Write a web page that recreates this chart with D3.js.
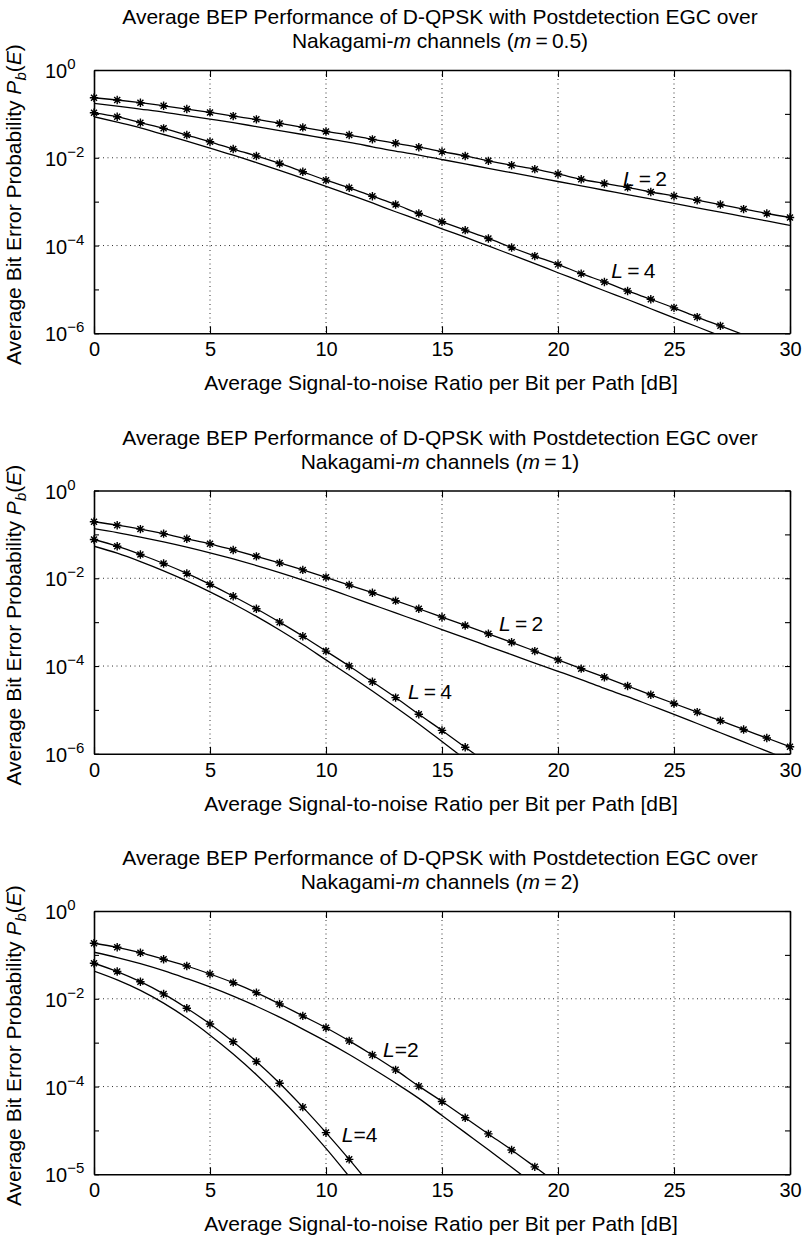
<!DOCTYPE html>
<html><head><meta charset="utf-8">
<script src="https://cdn.jsdelivr.net/npm/d3@7"></script>
<style>
body{margin:0;background:#fff}
text{font-family:"Liberation Sans",Arial,Helvetica,sans-serif;fill:#000}
</style>
</head><body>
<svg id="chart" width="803" height="1239"></svg>
<script>
// ---------- data ----------
const snrDb = [0,1,2,3,4,5,6,7,8,9,10,11,12,13,14,15,16,17,18,19,20,21,22,23,24,25,26,27,28,29,30];
const xTicks = [0,5,10,15,20,25,30];
const xGridTicks = [5,10,15,20,25];
const yDecades = [1,1e-1,1e-2,1e-3,1e-4,1e-5,1e-6];
const yLabelValues = [1,1e-2,1e-4,1e-6];
const yExpLabelsA = ["0","\u22122","\u22124","\u22126"];
const yExpLabelsB = ["0","\u22122","\u22124","\u22125"];
const mValues = ["0.5","1","2"];

// m = 0.5
const m05L2sim = [0.233,0.207,0.18,0.153,0.129,0.108,0.0891,0.075,0.0607,0.0492,0.0398,0.0329,0.0263,0.0214,0.0174,0.0138,0.011,0.00851,0.00676,0.0055,0.00427,0.00324,0.0026,0.00211,0.00166,0.00135,0.00108,8.6e-4,6.76e-4,5.37e-4,4.37e-4];
const m05L2thy = [0.174,0.151,0.129,0.11,0.0912,0.0759,0.0631,0.0513,0.0417,0.0339,0.0275,0.0224,0.0178,0.0141,0.0115,0.00912,0.00724,0.00575,0.00457,0.00363,0.00288,0.00229,0.00182,0.00145,0.00115,9.12e-4,7.24e-4,5.75e-4,4.57e-4,3.63e-4,2.88e-4];
const m05L4sim = [0.106,0.0861,0.0631,0.0468,0.0329,0.0231,0.0158,0.011,0.00741,0.00479,0.00309,0.00207,0.00133,8.61e-4,5.37e-4,3.47e-4,2.24e-4,1.45e-4,9.02e-5,5.75e-5,3.72e-5,2.29e-5,1.48e-5,9.23e-6,5.96e-6,3.8e-6,2.34e-6,1.48e-6,9.3e-7];
const m05L4thy = [0.0861,0.0646,0.0479,0.0339,0.024,0.0166,0.0115,0.00776,0.00513,0.00339,0.00224,0.00145,9.33e-4,5.89e-4,3.8e-4,2.4e-4,1.55e-4,9.77e-5,6.17e-5,3.89e-5,2.4e-5,1.51e-5,9.33e-6,5.89e-6,3.63e-6,2.24e-6,1.41e-6,8.7e-7];
// m = 1
const m1L2sim = [0.194,0.162,0.132,0.104,0.0794,0.061,0.0442,0.0316,0.0224,0.0155,0.0105,0.007,0.00468,0.00309,0.00202,0.0013,8.41e-4,5.43e-4,3.47e-4,2.19e-4,1.38e-4,8.71e-5,5.56e-5,3.51e-5,2.21e-5,1.4e-5,8.91e-6,5.69e-6,3.59e-6,2.29e-6,1.45e-6];
const m1L2thy = [0.135,0.11,0.0871,0.0676,0.0513,0.038,0.0275,0.0195,0.0135,0.00912,0.00603,0.00389,0.00251,0.00162,0.00105,6.76e-4,4.37e-4,2.82e-4,1.82e-4,1.17e-4,7.59e-5,4.9e-5,3.09e-5,2e-5,1.26e-5,7.94e-6,4.9e-6,3.02e-6,1.86e-6,1.15e-6,7.08e-7];
const m1L4sim = [0.0766,0.0537,0.0348,0.0217,0.0129,0.00724,0.00389,0.00202,0.001,4.79e-4,2.19e-4,1e-4,4.37e-5,1.91e-5,7.94e-6,3.41e-6,1.41e-6,5.89e-7];
const m1L4thy = [0.0537,0.0372,0.024,0.0148,0.00871,0.0049,0.00263,0.00135,6.61e-4,3.09e-4,1.38e-4,6.17e-5,2.69e-5,1.15e-5,4.79e-6,1.9e-6,7.5e-7];
// m = 2
const m2L2sim = [0.184,0.149,0.112,0.0794,0.0558,0.0367,0.0233,0.0138,0.00759,0.00407,0.00219,0.0011,5.25e-4,2.4e-4,1.02e-4,4.57e-5,1.95e-5,8.32e-6,3.59e-6,1.48e-6,6.03e-7];
const m2L2thy = [0.115,0.0871,0.0631,0.0437,0.0288,0.0186,0.0115,0.00676,0.0038,0.00204,0.00107,5.37e-4,2.57e-4,1.2e-4,5.37e-5,2.19e-5,8.91e-6,3.63e-6,1.45e-6,5.75e-7];
const m2L4sim = [0.0646,0.0417,0.0245,0.0129,0.00608,0.00267,0.00105,3.72e-4,1.19e-4,3.39e-5,8.91e-6,2.19e-6,5.01e-7];
const m2L4thy = [0.0427,0.0269,0.0155,0.00794,0.00363,0.00148,5.5e-4,1.86e-4,5.62e-5,1.55e-5,3.89e-6,8.91e-7];

// annotations: [snr dB, probability] of text start
const annotL2 = [[22.8,2.25e-3],[17.46,6.2e-4],[12.46,4.7e-4]];
const annotL4 = [[22.3,1.8e-5],[13.53,1.74e-5],[10.68,5.5e-6]];
const annotEq = ["\u2009=\u20092","\u2009=\u20092","=2"];
const annotEq4 = ["\u2009=\u20094","\u2009=\u20094","=4"];

const panels = [
  {m: mValues[0], series:[m05L2sim,m05L2thy,m05L4sim,m05L4thy], yExp: yExpLabelsA},
  {m: mValues[1], series:[m1L2sim,m1L2thy,m1L4sim,m1L4thy], yExp: yExpLabelsA},
  {m: mValues[2], series:[m2L2sim,m2L2thy,m2L4sim,m2L4thy], yExp: yExpLabelsB}
];

// ---------- layout ----------
const svg = d3.select("#chart");
svg.append("rect").attr("width",803).attr("height",1239).attr("fill","#fff");
const left = 94, right = 790, plotH = 263.3, firstTop = 70, step = 420.5;
const FS = 21, TFS = 20;

const star = "M-4.2,0H4.2M0,-4.2V4.2M-3,-3L3,3M-3,3L3,-3";

panels.forEach((p, i) => {
  const top = firstTop + i*step;
  const bottom = top + plotH;
  const x = d3.scaleLinear().domain([0,30]).range([left,right]);
  const y = d3.scaleLog().domain([1e-6,1]).range([bottom, top]);
  const g = svg.append("g");

  g.append("clipPath").attr("id","clip"+i).append("rect")
    .attr("x",left).attr("y",top).attr("width",right-left).attr("height",plotH);

  // grid
  g.selectAll(".gx").data(xGridTicks).join("line")
    .attr("x1",d=>x(d)).attr("x2",d=>x(d)).attr("y1",top).attr("y2",bottom)
    .attr("stroke","#333").attr("stroke-width",1).attr("stroke-dasharray","1,3.5");
  g.selectAll(".gy").data([1e-2,1e-4]).join("line")
    .attr("x1",left).attr("x2",right).attr("y1",d=>y(d)).attr("y2",d=>y(d))
    .attr("stroke","#333").attr("stroke-width",1).attr("stroke-dasharray","1,3.5");

  // curves
  const line = d3.line().x((d,j)=>x(snrDb[j])).y(d=>y(d)).curve(d3.curveMonotoneX);
  const cg = g.append("g").attr("clip-path",`url(#clip${i})`);
  p.series.forEach(s => {
    cg.append("path").attr("d",line(s)).attr("fill","none").attr("stroke","#000").attr("stroke-width",1.3);
  });
  // markers on simulation series
  [p.series[0], p.series[2]].forEach(s => {
    const pts = s.map((v,j)=>[snrDb[j],v]).filter(d=>d[1]>=1e-6);
    g.selectAll(null).data(pts).join("path")
      .attr("transform",d=>`translate(${x(d[0])},${y(d[1])})`)
      .attr("d",star).attr("stroke","#000").attr("stroke-width",1.4).attr("fill","none");
  });

  // axes
  const styleAxis = s => {
    s.attr("font-size",TFS).attr("font-family",null);
    s.select(".domain").attr("stroke-width",1.6);
    s.selectAll(".tick line").attr("stroke-width",1.1);
  };
  g.append("g").attr("transform",`translate(0,${bottom})`)
    .call(d3.axisBottom(x).tickValues(xTicks).tickSize(-7).tickSizeOuter(0).tickPadding(9))
    .call(styleAxis);
  g.append("g").attr("transform",`translate(0,${top})`)
    .call(d3.axisTop(x).tickValues(xTicks).tickSize(-7).tickSizeOuter(0).tickFormat(""))
    .call(styleAxis);
  g.append("g").attr("transform",`translate(${left},0)`)
    .call(d3.axisLeft(y).tickValues(yDecades).tickSize(-5).tickSizeOuter(0).tickFormat(""))
    .call(styleAxis);
  g.append("g").attr("transform",`translate(${right},0)`)
    .call(d3.axisRight(y).tickValues(yDecades).tickSize(-5).tickSizeOuter(0).tickFormat(""))
    .call(styleAxis);

  // y tick labels 10^k
  const yl = g.selectAll(".ylab").data(yLabelValues).join("text")
    .attr("x",45).attr("y",d=>y(d)+8).attr("font-size",TFS);
  yl.append("tspan").text("10");
  yl.append("tspan").attr("font-size",15).attr("dy",-9).text((d,k)=>p.yExp[k]);

  // titles
  const cx = (left+right)/2;
  g.append("text").attr("x",cx-2).attr("y",top-46).attr("text-anchor","middle").attr("font-size",FS)
    .text("Average BEP Performance of D-QPSK with Postdetection EGC over");
  const t2 = g.append("text").attr("x",cx-2).attr("y",top-22).attr("text-anchor","middle").attr("font-size",FS);
  t2.append("tspan").text("Nakagami-");
  t2.append("tspan").attr("font-style","italic").text("m");
  t2.append("tspan").text(" channels (");
  t2.append("tspan").attr("font-style","italic").text("m");
  t2.append("tspan").text("\u2009=\u2009" + p.m + ")");

  // x label
  g.append("text").attr("x",cx-1).attr("y",bottom+57).attr("text-anchor","middle").attr("font-size",FS)
    .text("Average Signal-to-noise Ratio per Bit per Path [dB]");

  // y label
  const ylab = g.append("text").attr("transform",`translate(21,${top+plotH/2+3}) rotate(-90)`)
    .attr("text-anchor","middle").attr("font-size",FS);
  ylab.append("tspan").text("Average Bit Error Probability ");
  ylab.append("tspan").attr("font-style","italic").text("P");
  ylab.append("tspan").attr("font-style","italic").attr("font-size",15).attr("dy",5).text("b");
  ylab.append("tspan").attr("dy",-5).text("(");
  ylab.append("tspan").attr("font-style","italic").text("E");
  ylab.append("tspan").text(")");

  // curve annotations
  [[annotL2[i], annotEq[i]], [annotL4[i], annotEq4[i]]].forEach(([pos, eq]) => {
    const t = g.append("text").attr("x",x(pos[0])).attr("y",y(pos[1])).attr("font-size",FS);
    t.append("tspan").attr("font-style","italic").text("L");
    t.append("tspan").text(eq);
  });
});
</script>
</body></html>
